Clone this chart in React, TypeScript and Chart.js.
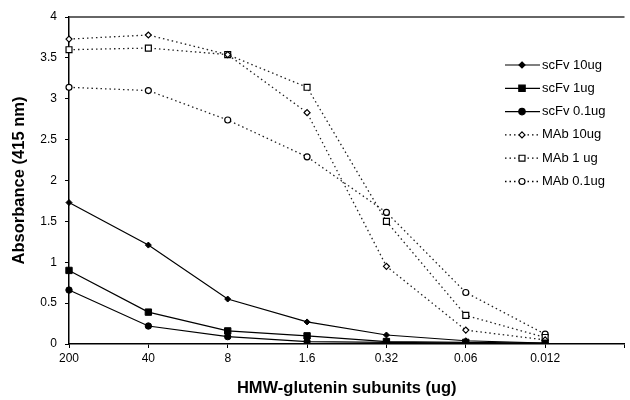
import React, { useEffect, useRef } from 'react';
import { Chart, registerables } from 'chart.js';

Chart.register(...registerables);

const categories = ['200', '40', '8', '1.6', '0.32', '0.06', '0.012', ''];
const yTicks = [0, 0.5, 1, 1.5, 2, 2.5, 3, 3.5, 4];

const scFv10 = [1.73, 1.21, 0.55, 0.27, 0.11, 0.04, 0.01];
const scFv1 = [0.9, 0.39, 0.16, 0.1, 0.03, 0.02, 0.01];
const scFv01 = [0.66, 0.22, 0.09, 0.03, 0.02, 0.01, 0.0];
const mab10 = [3.73, 3.78, 3.54, 2.83, 0.95, 0.17, 0.05];
const mab1 = [3.6, 3.62, 3.54, 3.14, 1.5, 0.35, 0.08];
const mab01 = [3.14, 3.1, 2.74, 2.29, 1.61, 0.63, 0.12];

const seriesNames = ['scFv 10ug', 'scFv 1ug', 'scFv 0.1ug', 'MAb 10ug', 'MAb 1 ug', 'MAb 0.1ug'];

const FONT = "'Liberation Sans', Arial, sans-serif";

function drawMarker(ctx: CanvasRenderingContext2D, style: string, x: number, y: number, r: number, fill: string) {
  ctx.save();
  ctx.setLineDash([]);
  ctx.lineWidth = 1.2;
  ctx.strokeStyle = '#000';
  ctx.fillStyle = fill;
  ctx.beginPath();
  if (style === 'circle') {
    ctx.arc(x, y, r, 0, Math.PI * 2);
  } else if (style === 'rect') {
    const h = r / Math.SQRT2;
    ctx.rect(x - h, y - h, 2 * h, 2 * h);
  } else {
    ctx.moveTo(x, y - r);
    ctx.lineTo(x + r, y);
    ctx.lineTo(x, y + r);
    ctx.lineTo(x - r, y);
    ctx.closePath();
  }
  ctx.fill();
  ctx.stroke();
  ctx.restore();
}

const framePlugin = {
  id: 'frameTop',
  beforeDatasetsDraw(chart: any) {
    const { ctx, chartArea } = chart;
    ctx.save();
    ctx.strokeStyle = '#333';
    ctx.lineWidth = 1.5;
    ctx.beginPath();
    ctx.moveTo(chartArea.left, chartArea.top);
    ctx.lineTo(chartArea.right, chartArea.top);
    ctx.stroke();
    ctx.restore();
  },
};

const legendPlugin = {
  id: 'customLegend',
  afterDatasetsDraw(chart: any) {
    const { ctx } = chart;
    chart.data.datasets.forEach((ds: any, i: number) => {
      const y = 65 + i * 23.3;
      ctx.save();
      ctx.strokeStyle = '#000';
      ctx.lineWidth = ds.borderWidth;
      ctx.setLineDash(ds.borderDash || []);
      ctx.beginPath();
      ctx.moveTo(505, y);
      ctx.lineTo(540, y);
      ctx.stroke();
      ctx.restore();
      drawMarker(ctx, ds.pointStyle, 522, y, ds.pointRadius, ds.pointBackgroundColor);
      ctx.save();
      ctx.fillStyle = '#000';
      ctx.font = `13px ${FONT}`;
      ctx.textBaseline = 'middle';
      ctx.textAlign = 'left';
      ctx.fillText(ds.label, 542, y);
      ctx.restore();
    });
  },
};

export default function App() {
  const ref = useRef<HTMLCanvasElement>(null);

  useEffect(() => {
    if (!ref.current) return;
    const solid = (label: string, data: number[], style: string, r: number) => ({
      label,
      data,
      borderColor: '#000',
      borderWidth: 1.2,
      pointStyle: style,
      pointRadius: r,
      pointBackgroundColor: '#000',
      pointBorderColor: '#000',
      pointBorderWidth: 1,
      tension: 0,
      fill: false,
    });
    const dotted = (label: string, data: number[], style: string, r: number) => ({
      label,
      data,
      borderColor: '#222',
      borderWidth: 1.3,
      borderDash: [1.5, 3],
      pointStyle: style,
      pointRadius: r,
      pointBackgroundColor: '#fff',
      pointBorderColor: '#000',
      pointBorderWidth: 1.2,
      tension: 0,
      fill: false,
    });

    const chart = new Chart(ref.current, {
      type: 'line',
      data: {
        labels: categories,
        datasets: [
          solid(seriesNames[0], scFv10, 'rectRot', 3),
          solid(seriesNames[1], scFv1, 'rect', 4.5),
          solid(seriesNames[2], scFv01, 'circle', 3.2),
          dotted(seriesNames[3], mab10, 'rectRot', 3),
          dotted(seriesNames[4], mab1, 'rect', 4.2),
          dotted(seriesNames[5], mab01, 'circle', 3),
        ] as any,
      },
      options: {
        animation: false,
        responsive: false,
        maintainAspectRatio: false,
        layout: { padding: { top: 17, left: 0, right: 0, bottom: 0 } },
        plugins: {
          legend: { display: false },
          tooltip: { enabled: false },
        },
        scales: {
          x: {
            type: 'category',
            offset: false,
            afterFit: (s: any) => { s.height = 56; },
            grid: { drawOnChartArea: false, drawTicks: true, tickLength: 4, color: '#000' },
            border: { color: '#000', width: 1.5 },
            ticks: { color: '#000', font: { size: 12, family: FONT }, padding: 3, maxRotation: 0, autoSkip: false },
            title: {
              display: true,
              text: 'HMW-glutenin subunits (ug)',
              color: '#000',
              font: { size: 16.5, weight: 'bold', family: FONT },
              padding: { top: 0, bottom: 2 },
            },
          },
          y: {
            min: 0,
            max: 4,
            afterFit: (s: any) => { s.width = 69; },
            afterBuildTicks: (s: any) => { s.ticks = yTicks.map((v) => ({ value: v })); },
            grid: { drawOnChartArea: false, drawTicks: true, tickLength: 4, color: '#000' },
            border: { color: '#000', width: 1.5 },
            ticks: {
              color: '#000',
              font: { size: 12, family: FONT },
              padding: 8,
              callback: (v: any) => String(Number(v)),
            },
            title: {
              display: true,
              text: 'Absorbance (415 nm)',
              color: '#000',
              font: { size: 16.5, weight: 'bold', family: FONT },
              padding: { top: 10, bottom: 0 },
            },
          },
        },
      } as any,
      plugins: [framePlugin, legendPlugin],
    });
    return () => chart.destroy();
  }, []);

  return (
    <div style={{ position: 'absolute', left: 0, top: 0, width: 630, height: 400, background: '#fff' }}>
      <canvas ref={ref} width={630} height={400} />
    </div>
  );
}
